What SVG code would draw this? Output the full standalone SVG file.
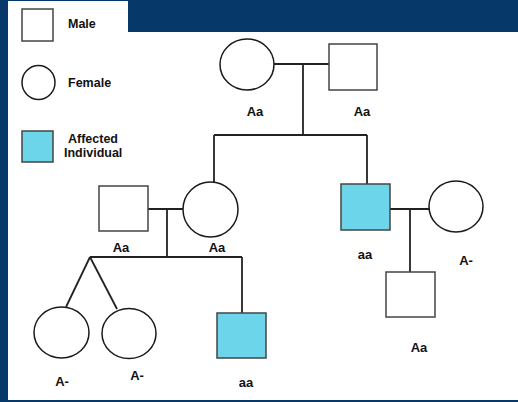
<svg xmlns="http://www.w3.org/2000/svg" width="518" height="402" viewBox="0 0 518 402">
  <style>
    .bg { fill: #07386a; }
    .panel { fill: #ffffff; }
    .male { fill: #ffffff; stroke: #444; stroke-width: 1.5; }
    .female { fill: #ffffff; stroke: #1a1a1a; stroke-width: 1.5; }
    .affected { fill: #6cd5e9; stroke: #444; stroke-width: 1.5; }
    .line { stroke: #222; stroke-width: 1.8; fill: none; }
    text { font-family: "Liberation Sans", Arial, sans-serif; font-weight: bold; fill: #111; }
    .legend { font-size: 12.5px; }
    .geno { font-size: 13px; text-anchor: middle; }
  </style>

  <!-- frame -->
  <rect class="bg" x="0" y="0" width="518" height="402"/>
  <rect class="panel" x="8" y="1" width="120" height="40"/>
  <rect class="panel" x="8" y="32" width="510" height="368"/>

  <!-- legend -->
  <g id="legend">
    <rect class="male" x="22" y="9" width="31" height="32"/>
    <text class="legend" x="68" y="28">Male</text>
    <ellipse class="female" cx="38.5" cy="82.5" rx="16.5" ry="17"/>
    <text class="legend" x="68" y="87">Female</text>
    <rect class="affected" x="22" y="131" width="31" height="31"/>
    <text class="legend" x="68" y="143">Affected</text>
    <text class="legend" x="64" y="157">Individual</text>
  </g>

  <!-- connectors -->
  <g id="connectors">
    <path class="line" d="M274 64 H329"/>
    <path class="line" d="M303 64 V135"/>
    <path class="line" d="M214 135 H367"/>
    <path class="line" d="M214 135 V182"/>
    <path class="line" d="M367 135 V184"/>
    <path class="line" d="M148 209 H183"/>
    <path class="line" d="M167 209 V257"/>
    <path class="line" d="M90 257 H242"/>
    <path class="line" d="M242 257 V313"/>
    <path class="line" d="M90 257 L66 307"/>
    <path class="line" d="M90 257 L117 309"/>
    <path class="line" d="M390 209 H429"/>
    <path class="line" d="M410 209 V272"/>
  </g>

  <!-- generation I -->
  <g id="grandmother">
    <ellipse class="female" cx="247" cy="64.5" rx="27" ry="25.5"/>
    <text class="geno" x="255" y="116">Aa</text>
  </g>
  <g id="grandfather">
    <rect class="male" x="329" y="44" width="48" height="46"/>
    <text class="geno" x="362" y="116">Aa</text>
  </g>

  <!-- generation II -->
  <g id="husband">
    <rect class="male" x="99" y="186" width="49" height="45"/>
    <text class="geno" x="121" y="252">Aa</text>
  </g>
  <g id="daughter">
    <ellipse class="female" cx="210.5" cy="209.5" rx="27.5" ry="27.5"/>
    <text class="geno" x="217" y="252">Aa</text>
  </g>
  <g id="son">
    <rect class="affected" x="341" y="184" width="49" height="46"/>
    <text class="geno" x="365" y="259">aa</text>
  </g>
  <g id="wife">
    <ellipse class="female" cx="456" cy="206.5" rx="27" ry="25.5"/>
    <text class="geno" x="466" y="265">A-</text>
  </g>

  <!-- generation III -->
  <g id="twin1">
    <ellipse class="female" cx="61.5" cy="332.5" rx="27.5" ry="25.5"/>
    <text class="geno" x="62" y="386">A-</text>
  </g>
  <g id="twin2">
    <ellipse class="female" cx="129" cy="333.5" rx="27" ry="25"/>
    <text class="geno" x="137" y="380">A-</text>
  </g>
  <g id="grandson">
    <rect class="affected" x="217" y="313" width="49" height="45"/>
    <text class="geno" x="246" y="387">aa</text>
  </g>
  <g id="nephew">
    <rect class="male" x="386" y="272" width="49" height="45"/>
    <text class="geno" x="419" y="352">Aa</text>
  </g>
</svg>
